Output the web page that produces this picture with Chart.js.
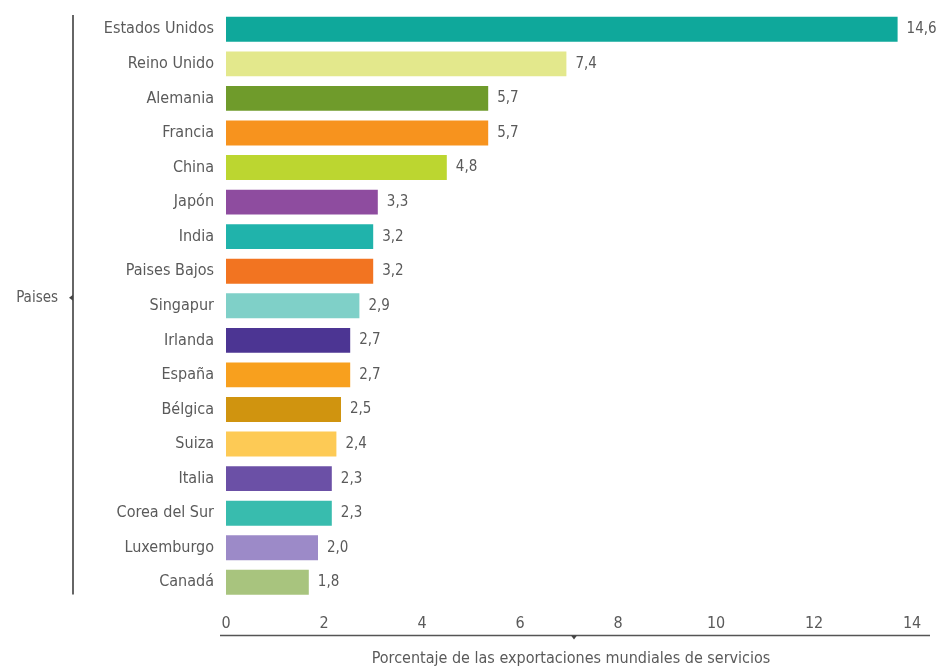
<!DOCTYPE html>
<html>
<head>
<meta charset="utf-8">
<script src="https://cdn.jsdelivr.net/npm/chart.js@4"></script>
<style>
    html, body { margin: 0; padding: 0; background: #fff; }
    #wrap { width: 943px; height: 668px; }
</style>
</head>
<body>
<div id="wrap"><canvas id="myBarChart"></canvas></div>
<script>
// datos
let paises = ['Estados Unidos', 'Reino Unido', 'Alemania', 'Francia', 'China', 'Japón', 'India', 'Paises Bajos',
    'Singapur', 'Irlanda', 'España', 'Bélgica', 'Suiza', 'Italia', 'Corea del Sur', 'Luxemburgo', 'Canadá'];
let valores = [14.6, 7.4, 5.7, 5.7, 4.8, 3.3, 3.2, 3.2, 2.9, 2.7, 2.7, 2.5, 2.4, 2.3, 2.3, 2.0, 1.8];
let ticksX = [0, 2, 4, 6, 8, 10, 12, 14];
let colores = ['#0fa89b', '#e3e88c', '#6f9b2b', '#f7931e', '#bcd630', '#8e4c9f', '#20b3ab', '#f27421',
    '#7fd0c8', '#4c3593', '#f8a01e', '#d0940f', '#fdca55', '#6b50a6', '#38bcae', '#9c8ac8', '#a8c47e'];

let fuente = "'Liberation Sans Narrow', 'DejaVu Sans Condensed', sans-serif";
let gris = '#5a5a5a';

function formatValue(v) {
    return v.toFixed(1).replace('.', ',');
}

// etiquetas de valor, linea del eje y titulo "Paises"
let decoracion = {
    id: 'decoracion',
    afterDatasetsDraw(chart) {
        let ctx = chart.ctx;
        let meta = chart.getDatasetMeta(0);
        ctx.save();
        ctx.fillStyle = gris;
        ctx.font = '15px ' + fuente;
        ctx.textBaseline = 'middle';
        ctx.textAlign = 'left';
        meta.data.forEach(function (bar, i) {
            ctx.fillText(formatValue(valores[i]), bar.x + 9, bar.y);
        });

        let area = chart.chartArea;
        // linea vertical izquierda
        ctx.strokeStyle = '#666';
        ctx.lineWidth = 2;
        ctx.beginPath();
        ctx.moveTo(73, area.top + 3);
        ctx.lineTo(73, area.bottom - 5);
        ctx.stroke();
        let midY = (area.top + area.bottom) / 2 - 8;
        ctx.fillStyle = '#444';
        ctx.beginPath();
        ctx.moveTo(69, midY);
        ctx.lineTo(73, midY - 3);
        ctx.lineTo(73, midY + 3);
        ctx.fill();
        ctx.fillStyle = gris;
        ctx.font = '15px ' + fuente;
        ctx.textAlign = 'right';
        ctx.fillText('Paises', 58, midY);

        // linea horizontal bajo los numeros
        let x2 = chart.scales.x2;
        let lineY = x2.top + 36;
        ctx.strokeStyle = '#555';
        ctx.lineWidth = 1.5;
        ctx.beginPath();
        ctx.moveTo(area.left - 6, lineY);
        ctx.lineTo(930, lineY);
        ctx.stroke();
        let midX = (area.left + area.right) / 2 + 3;
        ctx.fillStyle = '#444';
        ctx.beginPath();
        ctx.moveTo(midX - 3, lineY);
        ctx.lineTo(midX + 3, lineY);
        ctx.lineTo(midX, lineY + 4);
        ctx.fill();
        ctx.restore();
    }
};

let chart = document.getElementById('myBarChart').getContext('2d');
let myBarChart = new Chart(chart, {
    type: 'bar',
    data: {
        labels: paises,
        datasets: [{
            label: 'Porcentaje',
            data: valores,
            backgroundColor: colores,
            borderWidth: 0,
            xAxisID: 'x',
            categoryPercentage: 0.8,
            barPercentage: 0.9
        }]
    },
    options: {
        indexAxis: 'y',
        responsive: true,
        maintainAspectRatio: false,
        animation: false,
        layout: {
            padding: { top: 12, right: 27, bottom: 0, left: 0 }
        },
        plugins: {
            legend: { display: false },
            tooltip: { enabled: false }
        },
        scales: {
            x: {
                type: 'linear',
                display: false,
                min: 0,
                max: 15
            },
            x2: {
                type: 'linear',
                axis: 'x',
                position: 'bottom',
                min: 0,
                max: 14.08,
                afterBuildTicks: function (scale) {
                    scale.ticks = ticksX.map(function (v) { return { value: v }; });
                },
                grid: { display: false, drawTicks: false },
                border: { display: false },
                ticks: {
                    color: gris,
                    font: { family: fuente, size: 16 },
                    padding: 15,
                    maxRotation: 0,
                    autoSkip: false
                },
                title: {
                    display: true,
                    text: 'Porcentaje de las exportaciones mundiales de servicios',
                    color: gris,
                    font: { family: fuente, size: 16 },
                    padding: { top: 0, bottom: 0 }
                }
            },
            y: {
                type: 'category',
                afterFit: function (scale) {
                    scale.width = 226;
                    scale.paddingTop = 0;
                    scale.paddingBottom = 0;
                },
                grid: { display: false, drawTicks: false },
                border: { display: false },
                ticks: {
                    color: gris,
                    font: { family: fuente, size: 16 },
                    padding: 12,
                    autoSkip: false
                }
            }
        }
    },
    plugins: [decoracion]
});
</script>
</body>
</html>
